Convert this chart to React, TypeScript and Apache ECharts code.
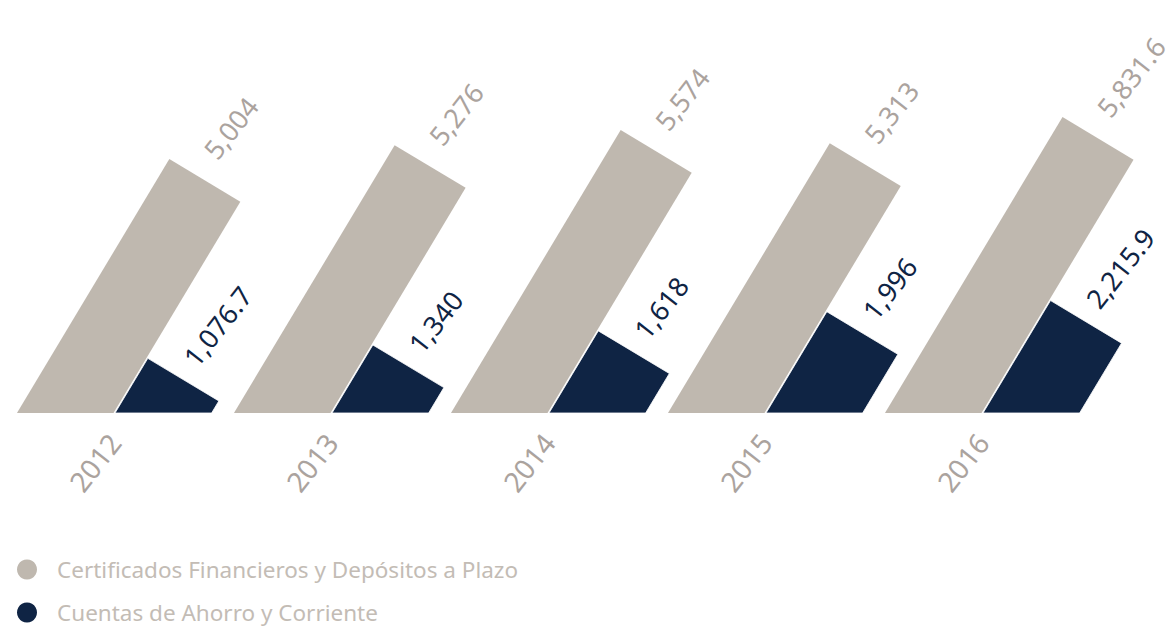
import React, { useEffect, useRef } from "react";
import * as echarts from "echarts";

const CATEGORIES = ["2012", "2013", "2014", "2015", "2016"];
const CERTIFICADOS = [5004, 5276, 5574, 5313, 5831.6];
const CUENTAS = [1076.7, 1340, 1618, 1996, 2215.9];
const SERIES_NAMES = [
  "Certificados Financieros y Depósitos a Plazo",
  "Cuentas de Ahorro y Corriente",
];
const COLORS = ["#BFB8AF", "#0F2444"];
const LABEL_COLORS = ["#ABA39E", "#0F2444"];
const FONT = "Noto Sans";

const TAN = 0.6;
const COS = 1 / Math.sqrt(1 + TAN * TAN);
const SIN = TAN * COS;
const LABEL_ROT = (52 * Math.PI) / 180;

function fmt(v: number) {
  return v.toLocaleString("en-US", { maximumFractionDigits: 1 });
}

function makeRender(kind: number) {
  return (params: any, api: any) => {
    const idx = api.value(0);
    const v = api.value(1);
    const base = api.coord([idx, 0]);
    const top = api.coord([idx, v]);
    const c = base[0];
    const b = base[1];
    const h = b - top[1];
    const band = api.size([1, 0])[0];
    const W = band * 0.445;
    const x0 = kind === 0 ? c - band * 0.4495 : c + band * 0.0025;
    const w = W * COS;
    const A = [x0, b];
    const B = [x0 + h * TAN, b - h];
    const C = [B[0] + w * COS, B[1] + w * SIN];
    let points: number[][];
    if (C[1] < b) {
      points = [A, B, C, [x0 + W, b]];
    } else {
      points = [A, B, [B[0] + h / TAN, b]];
    }
    const M = [B[0] + (w / 2) * COS, B[1] + (w / 2) * SIN];
    const d = kind === 0 ? 24 : 18;
    const e = kind === 0 ? -9 : -4;
    const ax = M[0] + d * SIN + e * COS;
    const ay = M[1] - d * COS + e * SIN;
    return {
      type: "group",
      children: [
        {
          type: "polygon",
          shape: { points },
          style: { fill: COLORS[kind], stroke: "#ffffff", lineWidth: kind === 1 ? 0.8 : 0 },
        },
        {
          type: "text",
          x: ax,
          y: ay,
          rotation: LABEL_ROT,
          style: {
            text: fmt(v),
            fill: LABEL_COLORS[kind],
            fontSize: 27,
            fontFamily: FONT,
            align: "left",
            verticalAlign: "middle",
          },
        },
      ],
    };
  };
}

const legendBase = {
  orient: "horizontal",
  left: 17,
  padding: 0,
  itemWidth: 20,
  itemHeight: 20,
  icon: "circle",
  textStyle: {
    color: "#C3BCB5",
    fontSize: 22.5,
    lineHeight: 22,
    fontFamily: FONT,
    padding: [0, 0, 0, 15],
  },
};

export default function App() {
  const ref = useRef<HTMLDivElement>(null);
  useEffect(() => {
    if (!ref.current) return;
    const chart = echarts.init(ref.current, null, { renderer: "svg" });
    chart.setOption({
      animation: false,
      color: COLORS,
      grid: { left: 6, right: 85, top: 7, bottom: 216, containLabel: false },
      legend: [
        { ...legendBase, top: 558, data: [SERIES_NAMES[0]] },
        { ...legendBase, top: 601, data: [SERIES_NAMES[1]] },
      ],
      xAxis: {
        type: "category",
        data: CATEGORIES,
        axisLine: { show: false },
        axisTick: { show: false },
        axisLabel: {
          rotate: 52,
          margin: 24,
          color: "#ABA39E",
          fontSize: 28,
          fontFamily: FONT,
        },
      },
      yAxis: {
        type: "value",
        min: 0,
        max: 8000,
        show: false,
        splitLine: { show: false },
      },
      series: [
        {
          name: SERIES_NAMES[0],
          type: "custom",
          clip: false,
          renderItem: makeRender(0),
          itemStyle: { color: COLORS[0] },
          data: CATEGORIES.map((_, i) => [i, CERTIFICADOS[i]]),
        },
        {
          name: SERIES_NAMES[1],
          type: "custom",
          clip: false,
          renderItem: makeRender(1),
          itemStyle: { color: COLORS[1] },
          data: CATEGORIES.map((_, i) => [i, CUENTAS[i]]),
        },
      ],
    });
    return () => chart.dispose();
  }, []);
  return (
    <div
      ref={ref}
      style={{ position: "absolute", left: 0, top: 0, width: 1176, height: 629 }}
    />
  );
}
